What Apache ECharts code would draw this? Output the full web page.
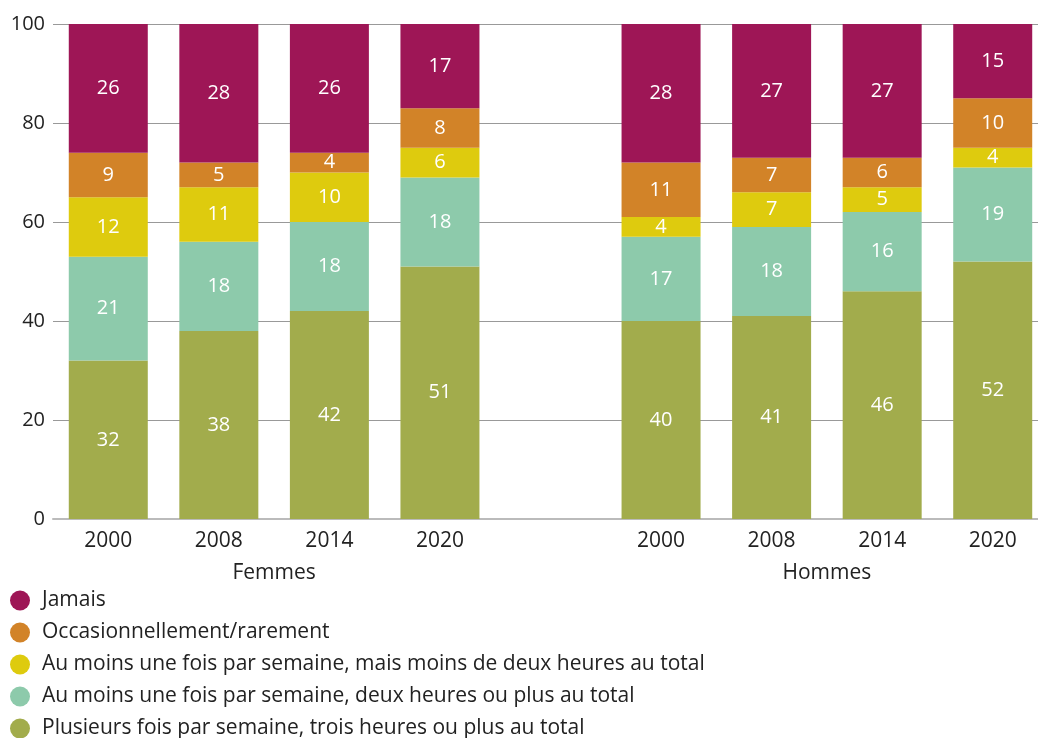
<!DOCTYPE html>
<html>
<head>
<meta charset="utf-8">
<script src="https://cdn.jsdelivr.net/npm/echarts@6/dist/echarts.min.js"></script>
<style>
  html, body { margin: 0; padding: 0; background: #fff; }
  #chart { width: 1038px; height: 738px; }
</style>
</head>
<body>
<div id="chart"></div>
<script type="text/javascript">
// categories
var years = ['2000', '2008', '2014', '2020'];
var groups = ['Femmes', 'Hommes'];
var yTicks = [0, 20, 40, 60, 80, 100];

// series names (bottom of stack first)
var names = [
  'Plusieurs fois par semaine, trois heures ou plus au total',
  'Au moins une fois par semaine, deux heures ou plus au total',
  'Au moins une fois par semaine, mais moins de deux heures au total',
  'Occasionnellement/rarement',
  'Jamais'
];

// values, Femmes then Hommes, per year
var plusieursF = [32, 38, 42, 51];
var plusieursH = [40, 41, 46, 52];
var deuxPlusF = [21, 18, 18, 18];
var deuxPlusH = [17, 18, 16, 19];
var moinsDeuxF = [12, 11, 10, 6];
var moinsDeuxH = [4, 7, 5, 4];
var occasF = [9, 5, 4, 8];
var occasH = [11, 7, 6, 10];
var jamaisF = [26, 28, 26, 17];
var jamaisH = [28, 27, 27, 15];

var colors = ['#a2ac4c', '#8dcaab', '#decb0e', '#d28328', '#9e1656'];

// one empty slot between the two groups
var cats = years.concat(['']).concat(years);
function join(f, h) { return f.concat(['-']).concat(h); }
var values = [
  join(plusieursF, plusieursH),
  join(deuxPlusF, deuxPlusH),
  join(moinsDeuxF, moinsDeuxH),
  join(occasF, occasH),
  join(jamaisF, jamaisH)
];

var font = 'Open Sans';
var chart = echarts.init(document.getElementById('chart'));

var series = [];
for (var i = 0; i < names.length; i++) {
  series.push({
    name: names[i],
    type: 'bar',
    stack: 'total',
    barWidth: 79,
    itemStyle: { color: colors[i] },
    label: {
      show: true,
      position: 'inside',
      color: '#fff',
      fontFamily: font,
      fontSize: 20
    },
    data: values[i]
  });
}

var option = {
  animation: false,
  backgroundColor: '#fff',
  grid: { left: 53, width: 995, top: 24, bottom: 219, outerBoundsMode: 'none', containLabel: false },
  legend: {
    orient: 'vertical',
    left: 10,
    top: 590,
    height: 170,
    padding: 0,
    icon: 'circle',
    itemWidth: 20,
    itemHeight: 20,
    itemGap: 11,
    textStyle: { fontFamily: font, fontSize: 21, color: '#222', lineHeight: 20, padding: [0, 0, 0, 7] },
    data: names.slice().reverse()
  },
  xAxis: [
    {
      type: 'category',
      data: cats,
      axisLine: { lineStyle: { color: '#bbb', width: 2 } },
      axisTick: { show: false },
      axisLabel: { fontFamily: font, fontSize: 21, color: '#222', margin: 12, interval: 0 }
    },
    {
      type: 'value',
      position: 'bottom',
      offset: 33,
      min: 0,
      max: cats.length,
      interval: 1,
      axisLine: { show: false },
      axisTick: { show: false },
      splitLine: { show: false },
      axisLabel: {
        fontFamily: font, fontSize: 21, color: '#222', margin: 11,
        formatter: function (v) {
          if (v === 2) return groups[0];
          if (v === 7) return groups[1];
          return '';
        }
      }
    }
  ],
  yAxis: {
    type: 'value',
    min: yTicks[0],
    max: yTicks[yTicks.length - 1],
    interval: 20,
    axisLine: { show: false },
    axisTick: { show: false },
    splitLine: { lineStyle: { color: '#999', width: 1 } },
    axisLabel: { fontFamily: font, fontSize: 20, color: '#222', margin: 8 }
  },
  series: series
};

chart.setOption(option);
</script>
</body>
</html>
